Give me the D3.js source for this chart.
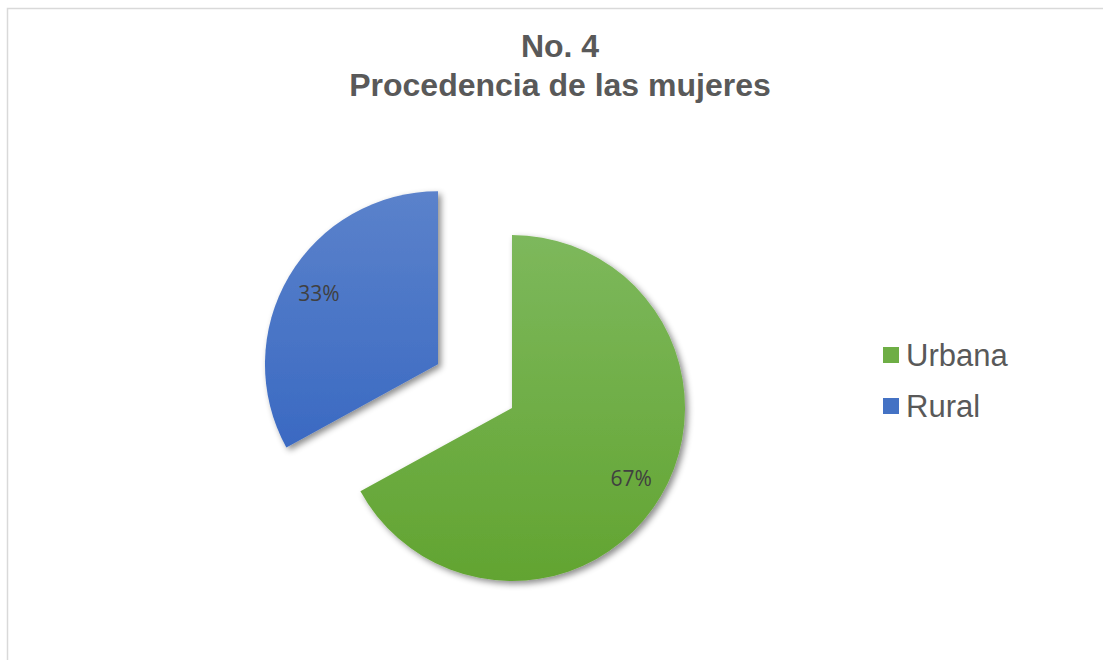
<!DOCTYPE html>
<html>
<head>
<meta charset="utf-8">
<script src="https://cdn.jsdelivr.net/npm/d3@7"></script>
<style>
  body { margin: 0; background: #fff; }
  svg { display: block; }
</style>
</head>
<body>
<svg id="chart" width="1103" height="660"></svg>
<script>
var categories = ['Urbana', 'Rural'];
var values = [67, 33];
var labels = ['67%', '33%'];
var titleLines = ['No. 4', 'Procedencia de las mujeres'];

var width = 1103, height = 660;
var cx = 512, cy = 408, radius = 173;
var explode = [0, 86];

var svg = d3.select('#chart');

// chart frame (only top and left visible)
svg.append('path')
  .attr('d', 'M7.5,660 V8.5 H1103')
  .attr('fill', 'none')
  .attr('stroke', '#d9d9d9')
  .attr('stroke-width', 1.5);

var defs = svg.append('defs');
var grads = [['#7db85c', '#62a431'], ['#5b82cb', '#2f61bf']];
grads.forEach(function(g, i) {
  var lg = defs.append('linearGradient')
    .attr('id', 'g' + i)
    .attr('gradientUnits', 'userSpaceOnUse')
    .attr('x1', 0).attr('y1', -radius).attr('x2', 0).attr('y2', radius);
  lg.append('stop').attr('offset', '0%').attr('stop-color', g[0]);
  lg.append('stop').attr('offset', '100%').attr('stop-color', g[1]);
});

var f = defs.append('filter').attr('id', 'shadow')
  .attr('x', '-20%').attr('y', '-20%').attr('width', '140%').attr('height', '140%');
f.append('feDropShadow')
  .attr('dx', 3).attr('dy', 3).attr('stdDeviation', 3)
  .attr('flood-color', '#000').attr('flood-opacity', 0.45);

var color = d3.scaleOrdinal().domain(categories).range(['url(#g0)', 'url(#g1)']);
var legendColor = d3.scaleOrdinal().domain(categories).range(['#6eae45', '#4472c4']);

var pie = d3.pie().sort(null).value(function(d) { return d; });
var arcs = pie(values);
var arc = d3.arc().innerRadius(0).outerRadius(radius);

var slices = svg.selectAll('g.slice')
  .data(arcs)
  .enter()
  .append('g')
  .attr('class', 'slice')
  .attr('transform', function(d, i) {
    var mid = (d.startAngle + d.endAngle) / 2;
    var dx = Math.sin(mid) * explode[i], dy = -Math.cos(mid) * explode[i];
    return 'translate(' + (cx + dx) + ',' + (cy + dy) + ')';
  });

slices.append('path')
  .attr('d', arc)
  .attr('fill', function(d, i) { return color(categories[i]); })
  .attr('filter', 'url(#shadow)');

var labelArc = d3.arc().innerRadius(radius * 0.8).outerRadius(radius * 0.8);
slices.append('text')
  .attr('transform', function(d) { return 'translate(' + labelArc.centroid(d) + ')'; })
  .attr('text-anchor', 'middle')
  .attr('dy', '0.35em')
  .attr('font-family', 'Open Sans, sans-serif')
  .attr('font-size', 21)
  .attr('fill', '#404040')
  .text(function(d, i) { return labels[i]; });

// title
svg.append('text')
  .attr('x', 560)
  .attr('font-family', 'Liberation Sans, Arial, sans-serif')
  .attr('font-weight', 'bold')
  .attr('font-size', 32)
  .attr('fill', '#595959')
  .attr('text-anchor', 'middle')
  .selectAll('tspan')
  .data(titleLines)
  .enter()
  .append('tspan')
  .attr('x', 560)
  .attr('y', function(d, i) { return 57 + i * 39; })
  .text(function(d) { return d; });

// legend
var legend = svg.selectAll('g.legend')
  .data(categories)
  .enter()
  .append('g')
  .attr('class', 'legend')
  .attr('transform', function(d, i) { return 'translate(883,' + (347 + i * 51) + ')'; });

legend.append('rect')
  .attr('width', 16).attr('height', 16)
  .attr('fill', function(d) { return legendColor(d); });

legend.append('text')
  .attr('x', 23)
  .attr('y', 19)
  .attr('font-family', 'Liberation Sans, Arial, sans-serif')
  .attr('font-size', 31)
  .attr('fill', '#595959')
  .text(function(d) { return d; });
</script>
</body>
</html>
